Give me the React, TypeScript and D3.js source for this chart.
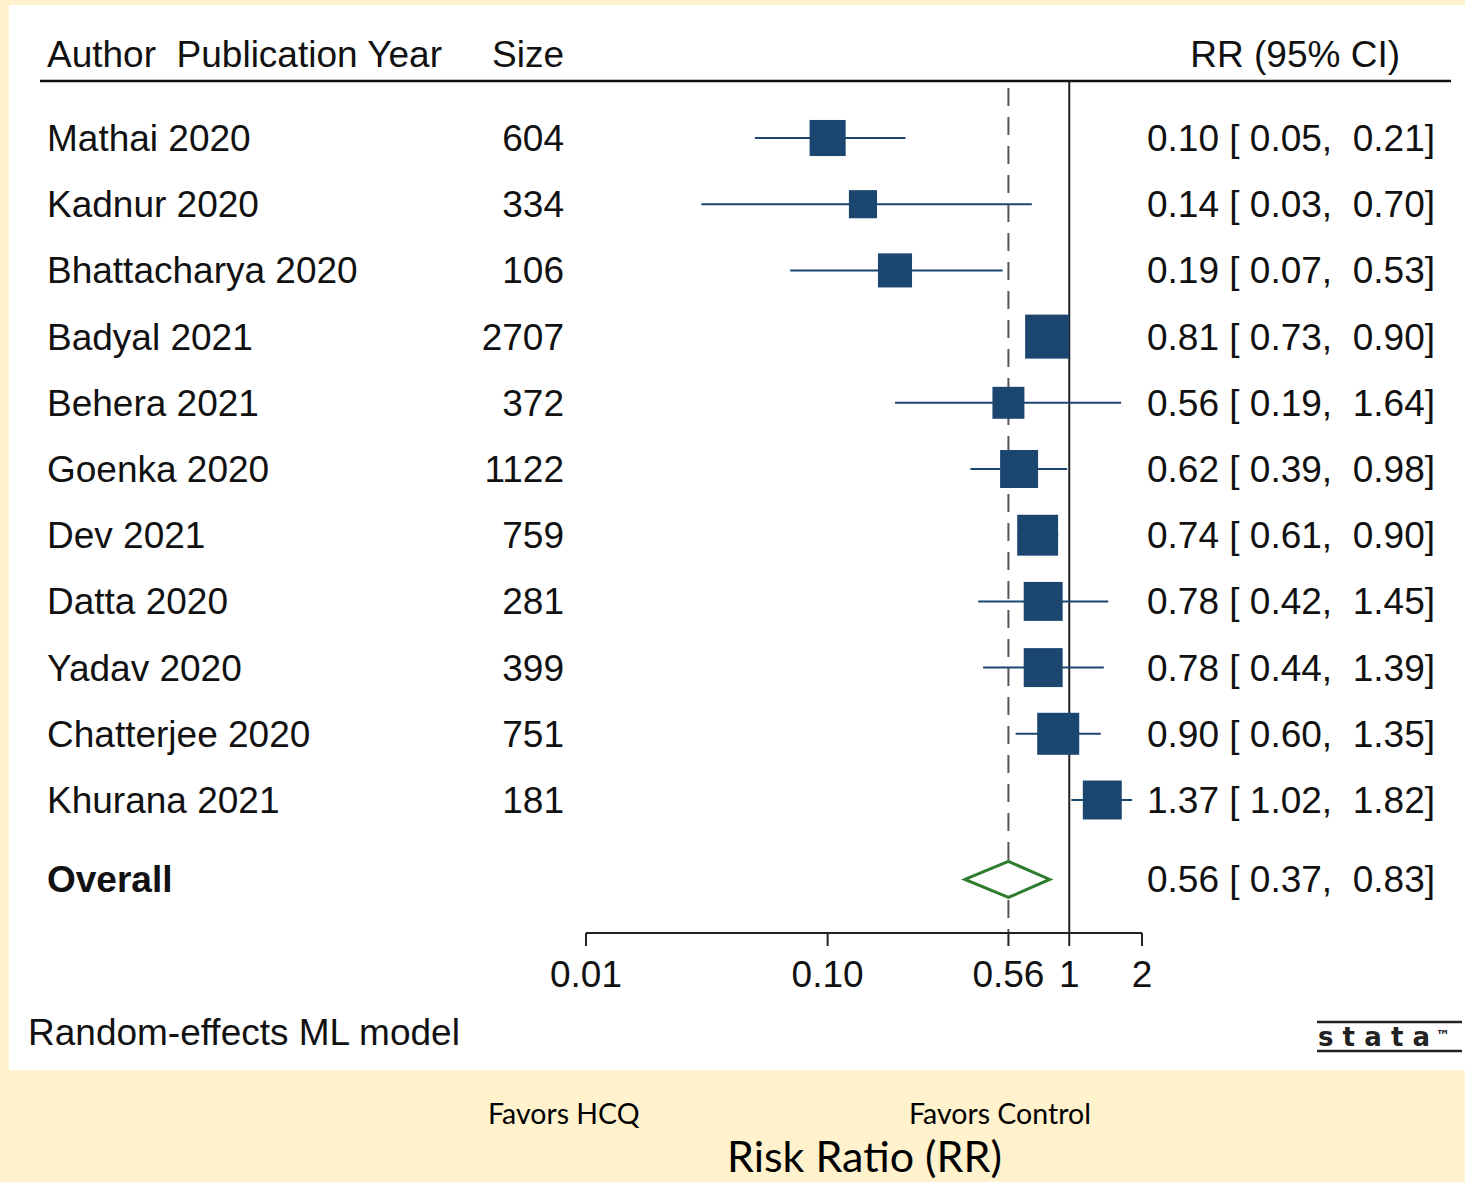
import { scaleLog, scaleLinear, scaleSqrt } from 'd3';

const studies = [
  'Mathai 2020',
  'Kadnur 2020',
  'Bhattacharya 2020',
  'Badyal 2021',
  'Behera 2021',
  'Goenka 2020',
  'Dev 2021',
  'Datta 2020',
  'Yadav 2020',
  'Chatterjee 2020',
  'Khurana 2021',
];
const sizes = [604, 334, 106, 2707, 372, 1122, 759, 281, 399, 751, 181];
const rr = [0.1, 0.14, 0.19, 0.81, 0.56, 0.62, 0.74, 0.78, 0.78, 0.9, 1.37];
const lower = [0.05, 0.03, 0.07, 0.73, 0.19, 0.39, 0.61, 0.42, 0.44, 0.6, 1.02];
const upper = [0.21, 0.7, 0.53, 0.9, 1.64, 0.98, 0.9, 1.45, 1.39, 1.35, 1.82];
// weights (%)
const weights = [8.4, 5.1, 7.5, 12.5, 6.6, 9.3, 10.8, 9.8, 9.8, 11.4, 9.8];
const overall = { rr: 0.56, lower: 0.37, upper: 0.83 };
const tickValues = [0.01, 0.1, 0.56, 1, 2];
const tickLabels = ['0.01', '0.10', '0.56', '1', '2'];

const W = 1465;
const H = 1182;
const font = '"Liberation Sans", Arial, sans-serif';
const navy = '#1B4670';
const fs = 37;

export default function App() {
  const x = scaleLog().domain([0.01, 2]).range([586, 1142]);
  // row index -> y centre (overall sits after a gap)
  const y = scaleLinear().domain([0, 10]).range([138, 800]);
  const yOverall = y(11.2);
  const box = scaleSqrt().domain([0, 12.5]).range([0, 44]);
  const fmt = (v: number) => v.toFixed(2);
  const ciText = (r: number, l: number, u: number) => `${fmt(r)} [ ${fmt(l)},  ${fmt(u)}]`;
  const axisY = 933;

  return (
    <svg
      width={W}
      height={H}
      style={{ position: 'absolute', left: 0, top: 0, display: 'block' }}
      fontFamily={font}
    >
      <rect width={W} height={H} fill="#FFF2CC" />
      <rect x={9} y={5} width={W - 9} height={1065} fill="#fff" />

      {/* header */}
      <g fontSize={fs} fill="#111">
        <text x={47} y={67} xmlSpace="preserve">Author  Publication Year</text>
        <text x={564} y={67} textAnchor="end">Size</text>
        <text x={1400} y={67} textAnchor="end">RR (95% CI)</text>
      </g>
      <line x1={40} x2={1451} y1={81} y2={81} stroke="#111" strokeWidth={2.5} />

      {/* reference lines */}
      <line x1={x(1)} x2={x(1)} y1={81} y2={axisY} stroke="#222" strokeWidth={2} />
      <line
        x1={x(overall.rr)}
        x2={x(overall.rr)}
        y1={88}
        y2={axisY}
        stroke="#555"
        strokeWidth={2}
        strokeDasharray="18 11"
      />

      {/* studies */}
      {studies.map((s, i) => {
        const cy = y(i);
        const side = box(weights[i]);
        return (
          <g key={s}>
            <line x1={x(lower[i])} x2={x(upper[i])} y1={cy} y2={cy} stroke={navy} strokeWidth={2} />
            <rect x={x(rr[i]) - side / 2} y={cy - side / 2} width={side} height={side} fill={navy} />
            <text x={47} y={cy + 13} fontSize={fs} fill="#111">{s}</text>
            <text x={564} y={cy + 13} fontSize={fs} fill="#111" textAnchor="end">{sizes[i]}</text>
            <text x={1435} y={cy + 13} fontSize={fs} fill="#111" textAnchor="end" xmlSpace="preserve">
              {ciText(rr[i], lower[i], upper[i])}
            </text>
          </g>
        );
      })}

      {/* overall */}
      <text x={47} y={yOverall + 13} fontSize={fs} fontWeight="bold" fill="#111">Overall</text>
      <polygon
        points={[
          [x(overall.lower), yOverall],
          [x(overall.rr), yOverall - 18],
          [x(overall.upper), yOverall],
          [x(overall.rr), yOverall + 18],
        ]
          .map((p) => p.join(','))
          .join(' ')}
        fill="#fff"
        stroke="#2E7D2E"
        strokeWidth={3}
      />
      <text x={1435} y={yOverall + 13} fontSize={fs} fill="#111" textAnchor="end" xmlSpace="preserve">
        {ciText(overall.rr, overall.lower, overall.upper)}
      </text>

      {/* axis */}
      <line x1={x(0.01)} x2={x(2)} y1={axisY} y2={axisY} stroke="#222" strokeWidth={2} />
      {tickValues.map((t, i) => (
        <g key={t}>
          <line x1={x(t)} x2={x(t)} y1={axisY} y2={axisY + 13} stroke="#222" strokeWidth={2} />
          <text x={x(t)} y={987} fontSize={fs} fill="#111" textAnchor="middle">{tickLabels[i]}</text>
        </g>
      ))}

      {/* footer */}
      <text x={28} y={1045} fontSize={fs} fill="#111">Random-effects ML model</text>
      <g fill="#222">
        <line x1={1317} x2={1462} y1={1022} y2={1022} stroke="#222" strokeWidth={2.5} />
        <line x1={1317} x2={1462} y1={1051} y2={1051} stroke="#222" strokeWidth={2.5} />
        <text
          x={1318}
          y={1046}
          fontSize={26}
          fontFamily='"DejaVu Sans", sans-serif'
          fontWeight="bold"
          textLength={112}
          lengthAdjust="spacing"
        >
          stata
        </text>
        <text x={1436} y={1040} fontSize={14} fontFamily='"DejaVu Sans", sans-serif' fontWeight="bold">™</text>
      </g>

      <g fontFamily="Lato, 'Open Sans', sans-serif" fill="#000">
        <text x={488} y={1124} fontSize={28.5}>Favors HCQ</text>
        <text x={909} y={1124} fontSize={28.5}>Favors Control</text>
        <text x={727} y={1172} fontSize={43}>Risk Ratio (RR)</text>
      </g>
    </svg>
  );
}
